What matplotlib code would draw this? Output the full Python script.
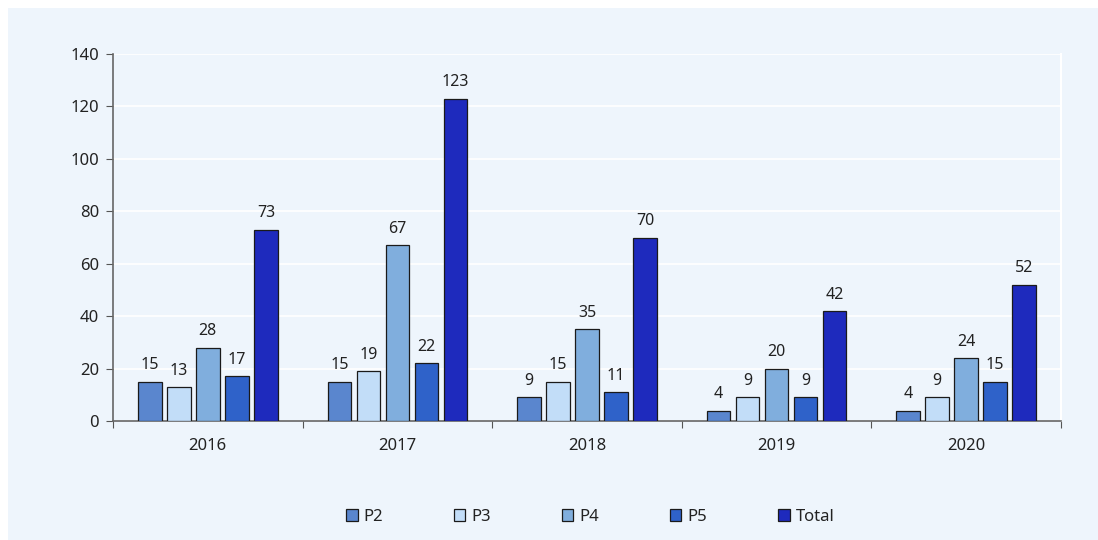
import matplotlib.pyplot as plt
import matplotlib.patches as mpatches
import numpy as np

plt.rcParams['font.family'] = ['Noto Sans', 'DejaVu Sans']

years = ['2016', '2017', '2018', '2019', '2020']
series = ['P2', 'P3', 'P4', 'P5', 'Total']
p2 = [15, 15, 9, 4, 4]
p3 = [13, 19, 15, 9, 9]
p4 = [28, 67, 35, 20, 24]
p5 = [17, 22, 11, 9, 15]
total = [73, 123, 70, 42, 52]
values = [p2, p3, p4, p5, total]
colors = ['#5A86CE', '#C2DDF8', '#80AEDD', '#2F62C9', '#1E2ABD']

bg = '#EEF5FC'

fig = plt.figure(figsize=(10.98, 5.40), dpi=100)
fig.patch.set_facecolor('white')
fig.patches.append(mpatches.Rectangle((8 / 1098, 0), 1 - 8 / 1098, 1 - 8 / 540,
                                      transform=fig.transFigure, facecolor=bg,
                                      edgecolor='none', zorder=-10))

ax = fig.add_axes([113 / 1098, 1 - 421 / 540, (1061 - 113) / 1098, (421 - 54) / 540])
ax.set_facecolor(bg)

x = np.arange(len(years))
step = 0.153
width = 0.125
for i, (name, vals, c) in enumerate(zip(series, values, colors)):
    pos = x + (i - 2) * step
    bars = ax.bar(pos, vals, width, color=c, edgecolor='#1a1a1a', linewidth=0.9,
                  label=name, zorder=3)
    for b, v in zip(bars, vals):
        ax.annotate(str(v), (b.get_x() + b.get_width() / 2, v), xytext=(0, 6),
                    textcoords='offset points', ha='center', va='bottom',
                    fontsize=11.5, color='#222222')

ax.set_xlim(-0.5, len(years) - 0.5)
ax.set_ylim(0, 140)
ax.set_yticks(range(0, 141, 20))
ax.yaxis.grid(True, color='white', linewidth=1.2, zorder=0)
ax.set_axisbelow(True)

ax.set_xticks(np.arange(-0.5, len(years), 1.0))
ax.set_xticklabels([])
ax.set_xticks(x, minor=True)
ax.set_xticklabels(years, minor=True)
ax.tick_params(axis='x', which='major', length=5, color='#555555', direction='out')
ax.tick_params(axis='x', which='minor', length=0, pad=12, labelsize=12, labelcolor='#222222')
ax.tick_params(axis='y', length=5, color='#555555', labelsize=12, labelcolor='#222222', pad=5)

for s in ['left', 'bottom']:
    ax.spines[s].set_color('#666666')
    ax.spines[s].set_linewidth(1.2)
ax.spines['top'].set_visible(False)
ax.spines['right'].set_color('white')
ax.spines['right'].set_linewidth(1.5)

leg = fig.legend(loc='center', bbox_to_anchor=(590 / 1098, 1 - 517 / 540), ncol=5,
                 frameon=False, fontsize=12, handlelength=0.7, handleheight=0.7,
                 handletextpad=0.35, columnspacing=4.25)
for t in leg.get_texts():
    t.set_color('#222222')

fig.savefig('out.png', dpi=100, facecolor=fig.get_facecolor())
